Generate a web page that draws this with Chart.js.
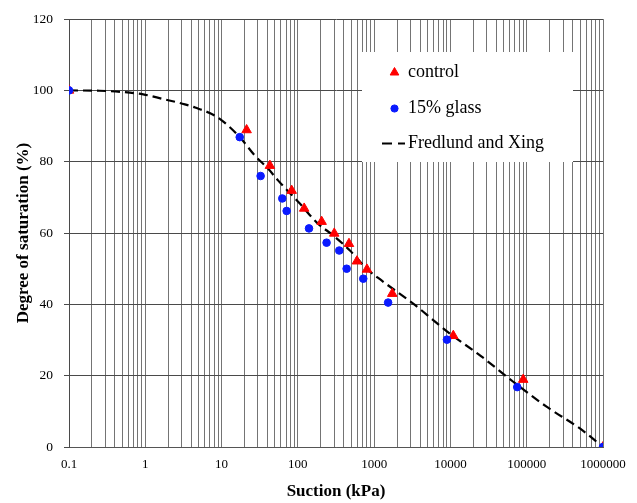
<!DOCTYPE html>
<html>
<head>
<meta charset="utf-8">
<script src="https://cdn.jsdelivr.net/npm/chart.js@4/dist/chart.umd.min.js"></script>
<style>
html,body{margin:0;padding:0;background:#fff;}
#wrap{width:637px;height:503px;position:relative;}
</style>
</head>
<body>
<div id="wrap"><canvas id="c" width="637" height="503"></canvas></div>
<script>
// ---- data ----
const seriesNames = ['control', '15% glass', 'Fredlund and Xing'];
const controlSuction = [0.1, 21.3, 43, 83, 121, 205, 300, 468, 595, 805, 1727, 10900, 90000, 1000000];
const controlSaturation = [100, 88.9, 78.9, 71.9, 66.9, 63.2, 59.9, 57.0, 52.1, 49.8, 43.0, 31.2, 18.9, 0];
const glassSuction = [0.1, 17.3, 32.5, 62.5, 71.3, 140, 238, 349, 436, 720, 1525, 9000, 75100, 1000000];
const glassSaturation = [100, 86.9, 76.0, 69.7, 66.2, 61.3, 57.3, 55.1, 50.0, 47.2, 40.5, 30.1, 16.8, 0];
const fitSuction = [0.1, 0.25, 0.47, 0.94, 1.7, 3.3, 4.5, 8.2, 12.2, 18.3, 27.4, 40.9, 55.3, 107, 176, 291, 482, 798, 1250, 3250, 9840, 24400, 66500, 182000, 498000, 1000000];
const fitSaturation = [100, 99.9, 99.6, 98.9, 97.6, 96.1, 95.2, 92.9, 90.1, 86.3, 81.7, 78.0, 74.7, 68.2, 63.0, 59.3, 55.1, 50.0, 46.7, 40.2, 31.8, 25.7, 18.3, 11.3, 5.2, 0];
const xTickValues = [0.1, 1, 10, 100, 1000, 10000, 100000, 1000000];
const xTickLabels = ['0.1', '1', '10', '100', '1000', '10000', '100000', '1000000'];
const yTickValues = [0, 20, 40, 60, 80, 100, 120];
const xTitle = 'Suction (kPa)';
const yTitle = 'Degree of saturation (%)';

const pts = (xs, ys) => xs.map((x, i) => ({x: x, y: ys[i]}));
const SERIF = "'Liberation Serif', 'Times New Roman', serif";

// custom legend box drawn inside the plot area
const legendBox = {
  id: 'legendBox',
  beforeDatasetsDraw(chart) {
    const ctx = chart.ctx;
    const ds = chart.data.datasets;
    ctx.save();
    ctx.fillStyle = '#fff';
    ctx.fillRect(362, 52, 211, 110);
    ctx.textBaseline = 'middle';
    ctx.textAlign = 'left';
    ctx.fillStyle = ds[0].backgroundColor; ctx.strokeStyle = ds[0].borderColor; ctx.lineWidth = 1;
    Chart.helpers.drawPoint(ctx, {pointStyle: 'triangle', radius: 5, borderWidth: 1}, 394.5, 72.5);
    ctx.fillStyle = ds[1].backgroundColor; ctx.strokeStyle = ds[1].borderColor;
    Chart.helpers.drawPoint(ctx, {pointStyle: 'circle', radius: 3.6, borderWidth: 1}, 394.5, 108.5);
    ctx.setLineDash([10, 6]);
    ctx.strokeStyle = '#000'; ctx.lineWidth = 2;
    ctx.beginPath(); ctx.moveTo(382, 143.5); ctx.lineTo(405, 143.5); ctx.stroke();
    ctx.setLineDash([]);
    ctx.font = '18px ' + SERIF;
    ctx.fillStyle = '#000';
    ctx.fillText(ds[0].label, 408, 72.5);
    ctx.fillText(ds[1].label, 408, 108.5);
    ctx.fillText(ds[2].label, 408, 143.5);
    ctx.restore();
  }
};

new Chart(document.getElementById('c'), {
  type: 'scatter',
  data: {
    datasets: [
      {
        label: seriesNames[0],
        data: pts(controlSuction, controlSaturation),
        pointStyle: 'triangle', pointRadius: 5.5, pointBorderWidth: 1,
        backgroundColor: '#ff0000', borderColor: '#ff0000',
        order: 1
      },
      {
        label: seriesNames[1],
        data: pts(glassSuction, glassSaturation),
        pointStyle: 'circle', pointRadius: 3.8, pointBorderWidth: 1,
        backgroundColor: '#0a1aff', borderColor: '#0a1aff',
        order: 0
      },
      {
        label: seriesNames[2],
        data: pts(fitSuction, fitSaturation),
        showLine: true, pointRadius: 0, borderColor: '#000', backgroundColor: '#000',
        borderWidth: 2.2, borderDash: [9, 5], cubicInterpolationMode: 'monotone',
        order: 2
      }
    ]
  },
  options: {
    responsive: false,
    animation: false,
    devicePixelRatio: 1,
    layout: {padding: {top: 18, right: 34, bottom: 0, left: 0}},
    plugins: {legend: {display: false}, tooltip: {enabled: false}},
    scales: {
      x: {
        type: 'logarithmic', min: 0.1, max: 1000000,
        afterFit: s => { s.height = 56; },
        afterBuildTicks: s => {
          const t = [];
          for (let i = 0; i < xTickValues.length - 1; i++) {
            for (let m = 1; m <= 9; m++) t.push({value: +(xTickValues[i] * m).toPrecision(6)});
          }
          t.push({value: xTickValues[xTickValues.length - 1]});
          s.ticks = t;
        },
        grid: {color: '#747474', lineWidth: 1, drawTicks: false},
        border: {color: '#555'},
        ticks: {
          autoSkip: false, maxRotation: 0, minRotation: 0, padding: 10, color: '#000',
          font: {family: SERIF, size: 13},
          callback: v => {
            const i = xTickValues.findIndex(t => Math.abs(Math.log10(t) - Math.log10(v)) < 1e-6);
            return i >= 0 ? xTickLabels[i] : '';
          }
        },
        title: {display: true, text: xTitle, color: '#000', font: {family: SERIF, size: 17, weight: 'bold'}, padding: {top: 0, bottom: 1}}
      },
      y: {
        type: 'linear', min: 0, max: 120,
        afterFit: s => { s.width = 69; },
        afterBuildTicks: s => { s.ticks = yTickValues.map(v => ({value: v})); },
        grid: {color: '#4a4a4a', lineWidth: 1, tickLength: 5},
        border: {color: '#4a4a4a'},
        ticks: {padding: 11, color: '#000', font: {family: SERIF, size: 13.5}},
        title: {display: true, text: yTitle, color: '#000', font: {family: SERIF, size: 17, weight: 'bold'}, padding: {top: 13, bottom: 0}}
      }
    }
  },
  plugins: [legendBox]
});
</script>
</body>
</html>
